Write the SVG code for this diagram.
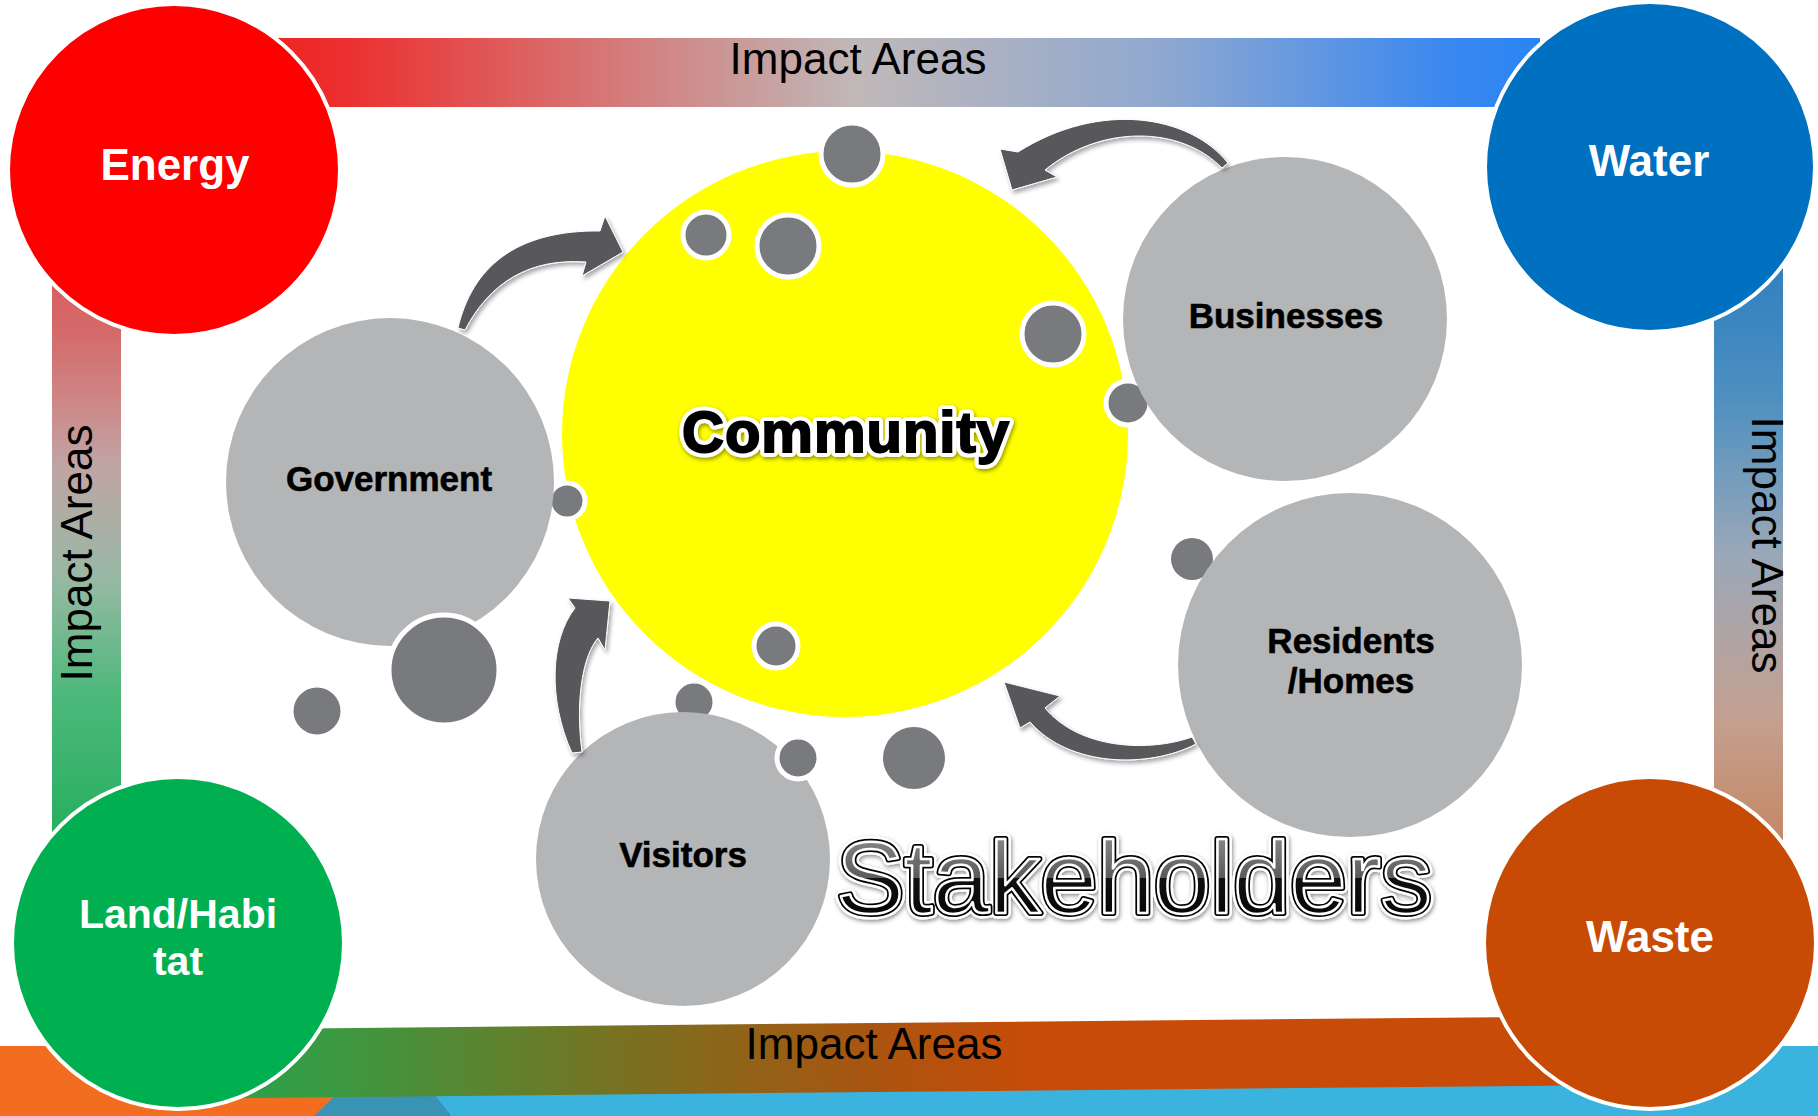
<svg xmlns="http://www.w3.org/2000/svg" width="1818" height="1116" viewBox="0 0 1818 1116">
<defs>
<style>
.imp{font-family:"Liberation Sans",Arial,sans-serif;font-size:44px;fill:#000;}
.area{font-family:"Liberation Sans",Arial,sans-serif;font-size:44px;font-weight:bold;fill:#fff;text-anchor:middle;}
.stk{font-family:"Liberation Sans",Arial,sans-serif;font-size:35px;font-weight:bold;fill:#000;stroke:#000;stroke-width:0.6;text-anchor:middle;}
.corner{stroke:#fff;stroke-width:4;}
.gray{fill:#b4b5b7;}
.dot{fill:#797a7e;}
.dotw{fill:#797a7e;stroke:#fff;stroke-width:5;}
.arrow{fill:#58595b;stroke:#fff;stroke-width:1;filter:url(#shadow);}
</style>
<linearGradient id="gTop" gradientUnits="userSpaceOnUse" x1="250" y1="0" x2="1540" y2="0">
<stop offset="0" stop-color="#f02020"/><stop offset="0.076" stop-color="#ec3030"/><stop offset="0.256" stop-color="#d87070"/><stop offset="0.47" stop-color="#c0b8b8"/><stop offset="0.705" stop-color="#90a8d0"/><stop offset="0.93" stop-color="#3a88f0"/><stop offset="1" stop-color="#2a84f4"/>
</linearGradient>
<linearGradient id="gLeft" gradientUnits="userSpaceOnUse" x1="0" y1="260" x2="0" y2="860">
<stop offset="0" stop-color="#dc5a5a"/><stop offset="0.12" stop-color="#d46a6a"/><stop offset="0.23" stop-color="#cf8585"/><stop offset="0.34" stop-color="#c0a4a4"/><stop offset="0.53" stop-color="#98b8a4"/><stop offset="0.73" stop-color="#4cb87a"/><stop offset="1" stop-color="#20ad5a"/>
</linearGradient>
<linearGradient id="gRight" gradientUnits="userSpaceOnUse" x1="0" y1="250" x2="0" y2="860">
<stop offset="0" stop-color="#2f80c0"/><stop offset="0.13" stop-color="#3d87c0"/><stop offset="0.25" stop-color="#5090c0"/><stop offset="0.5" stop-color="#9aa8b8"/><stop offset="0.77" stop-color="#c4a090"/><stop offset="1" stop-color="#c4845e"/>
</linearGradient>
<linearGradient id="gBot" gradientUnits="userSpaceOnUse" x1="250" y1="0" x2="1560" y2="0">
<stop offset="0" stop-color="#2ea048"/><stop offset="0.06" stop-color="#3a9a42"/><stop offset="0.29" stop-color="#7a7020"/><stop offset="0.47" stop-color="#a85510"/><stop offset="0.6" stop-color="#c84b08"/><stop offset="1" stop-color="#c84b08"/>
</linearGradient>
<linearGradient id="gStk" x1="0" y1="0" x2="0" y2="1">
<stop offset="0" stop-color="#9a9a9a"/><stop offset="0.5" stop-color="#5a5a5a"/><stop offset="0.5" stop-color="#111"/><stop offset="1" stop-color="#000"/>
</linearGradient>
<filter id="shadow" x="-20%" y="-20%" width="140%" height="140%">
<feDropShadow dx="2" dy="3" stdDeviation="2" flood-color="#000" flood-opacity="0.35"/>
</filter>
<filter id="glow" x="-10%" y="-30%" width="120%" height="160%">
<feDropShadow dx="1" dy="2" stdDeviation="2" flood-color="#000" flood-opacity="0.45"/>
</filter>
</defs>

<rect width="1818" height="1116" fill="#fff"/>

<g id="background">
<rect x="0" y="1046" width="340" height="70" fill="#f36d20"/>
<polygon points="336,1095 436,1095 452,1116 314,1116" fill="#3893b5"/>
<polygon points="432,1092 1560,1080 1560,1046 1818,1046 1818,1116 452,1116" fill="#3ab3df"/>
</g>

<g id="bands">
<rect x="250" y="38" width="1290" height="69" fill="url(#gTop)"/>
<rect x="52" y="260" width="69" height="600" fill="url(#gLeft)"/>
<rect x="1714" y="250" width="69" height="610" fill="url(#gRight)"/>
<rect x="200" y="1023" width="1370" height="69" fill="url(#gBot)" transform="rotate(-0.54 880 1057)"/>
<text class="imp" x="858" y="74" text-anchor="middle">Impact Areas</text>
<text class="imp" x="874" y="1059" text-anchor="middle">Impact Areas</text>
<text class="imp" text-anchor="middle" transform="translate(92 553) rotate(-90)">Impact Areas</text>
<text class="imp" text-anchor="middle" transform="translate(1752 545) rotate(90)">Impact Areas</text>
</g>

<g id="energy"><circle class="corner" cx="174" cy="170" r="166" fill="#fe0000"/><text class="area" x="175" y="180">Energy</text></g>
<g id="water"><circle class="corner" cx="1650" cy="167" r="165" fill="#0070c0"/><text class="area" x="1649" y="176">Water</text></g>
<g id="land"><circle class="corner" cx="178" cy="943" r="166" fill="#00b050"/><text class="area" style="font-size:41px"><tspan x="178" y="928">Land/Habi</tspan><tspan x="178" y="975">tat</tspan></text></g>
<g id="waste"><circle class="corner" cx="1650" cy="943" r="166" fill="#c84b05"/><text class="area" x="1650" y="952">Waste</text></g>

<g id="community"><circle cx="845" cy="434" r="283" fill="#ffff00"/></g>

<g id="dots-back">
<circle class="dotw" cx="1128" cy="403" r="22"/>
<circle class="dotw" cx="567" cy="501" r="18"/>
<circle class="dot" cx="1192" cy="559" r="21"/>
<circle class="dotw" cx="694" cy="702" r="21"/>
</g>

<g id="government"><circle class="gray" cx="390" cy="482" r="164"/><text class="stk" x="389" y="491">Government</text></g>
<g id="businesses"><circle class="gray" cx="1285" cy="319" r="162"/><text class="stk" x="1286" y="328">Businesses</text></g>
<g id="residents"><circle class="gray" cx="1350" cy="665" r="172"/><text class="stk"><tspan x="1351" y="653">Residents</tspan><tspan x="1351" y="693">/Homes</tspan></text></g>
<g id="visitors"><circle class="gray" cx="683" cy="859" r="147"/><text class="stk" x="683" y="867">Visitors</text></g>

<g id="dots-front">
<circle class="dotw" cx="852" cy="154" r="31"/>
<circle class="dotw" cx="706" cy="235" r="23"/>
<circle class="dotw" cx="788" cy="246" r="31"/>
<circle class="dotw" cx="1053" cy="334" r="31"/>
<circle class="dotw" cx="444" cy="670" r="55"/>
<circle class="dot" cx="317" cy="711" r="23.5"/>
<circle class="dotw" cx="776" cy="646" r="22"/>
<circle class="dotw" cx="798" cy="758" r="21"/>
<circle class="dot" cx="914" cy="758" r="31"/>
</g>

<g id="connectors">
<path class="arrow" d="M458,328 C472,268 515,230 600,231 L605,216 L623,252 L582,276 L586,262 C530,258 490,282 465,330 Z"/>
<path class="arrow" d="M1228,163 C1190,115 1100,100 1018,152 L1000,149 L1012,190 L1057,177 L1045,170 C1100,125 1180,125 1222,168 Z"/>
<path class="arrow" d="M572,753 C548,700 550,640 575,608 L568,598 L610,601 L605,650 L598,638 C583,655 575,700 582,752 Z"/>
<path class="arrow" d="M1192,737 C1150,752 1080,750 1045,708 L1060,696 L1004,682 L1020,728 L1030,722 C1070,768 1150,768 1196,744 Z"/>
</g>

<g id="labels">
<text x="846" y="452" text-anchor="middle" font-family="Liberation Sans, Arial, sans-serif" font-size="58" font-weight="bold" letter-spacing="1" fill="#fff" stroke="#fff" stroke-width="10" stroke-linejoin="round" filter="url(#glow)">Community</text>
<text x="846" y="452" text-anchor="middle" font-family="Liberation Sans, Arial, sans-serif" font-size="58" font-weight="bold" letter-spacing="1" fill="#000" stroke="#000" stroke-width="2">Community</text>
<text x="1134" y="913" text-anchor="middle" font-family="Liberation Sans, Arial, sans-serif" font-size="102" fill="#fff" stroke="#fff" stroke-width="11" stroke-linejoin="round" filter="url(#glow)">Stakeholders</text>
<text x="1134" y="913" text-anchor="middle" font-family="Liberation Sans, Arial, sans-serif" font-size="102" fill="none" stroke="#000" stroke-width="6" stroke-linejoin="round">Stakeholders</text>
<text x="1134" y="913" text-anchor="middle" font-family="Liberation Sans, Arial, sans-serif" font-size="102" fill="url(#gStk)" stroke="#fff" stroke-width="2.5" stroke-linejoin="round">Stakeholders</text>
</g>
</svg>
